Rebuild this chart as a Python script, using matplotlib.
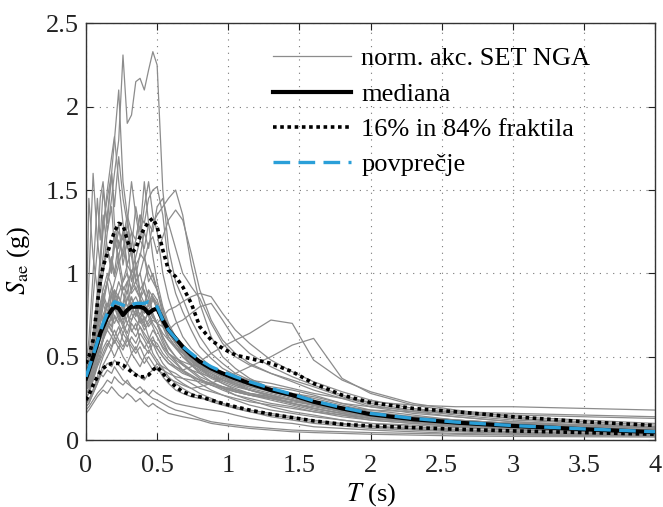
import matplotlib
matplotlib.use("Agg")
import matplotlib.pyplot as plt

# ---------------- data ----------------
T = [0.00, 0.02, 0.05, 0.08, 0.10, 0.12, 0.15, 0.18, 0.20, 0.23, 0.26, 0.29, 0.32,
     0.35, 0.38, 0.41, 0.44, 0.47, 0.50, 0.54, 0.58, 0.63, 0.68, 0.74, 0.80, 0.88,
     0.96, 1.05, 1.15, 1.30, 1.45, 1.60, 1.80, 2.00, 2.30, 2.60, 3.00, 3.50, 4.00]

rec01 = [0.42,0.45,0.6,0.8,0.9,1.0,1.25,1.45,1.6,1.8,2.31,1.9,1.95,2.15,2.17,2.1,2.22,2.33,2.25,
         1.5,1.15,0.95,0.85,0.72,0.62,0.52,0.46,0.40,0.36,
         0.31,0.27,0.23,0.19,0.16,0.13,0.11,0.09,0.07,0.055]
rec02 = [0.35,0.4,0.55,0.75,0.95,1.1,1.35,1.6,1.8,2.1,1.55,1.35,1.25,1.2,1.35,1.1,1.0,0.95,0.9,
         0.75,0.65,0.58,0.52,0.45,0.4,0.35,0.31,0.27,0.24,
         0.2,0.17,0.15,0.12,0.1,0.08,0.065,0.05,0.04,0.03]
rec03 = [0.4,0.45,0.65,0.85,1.05,1.25,1.5,1.7,1.82,1.55,1.3,1.15,1.25,1.05,1.1,1.25,1.15,1.3,1.35,
         1.4,1.45,1.5,1.35,1.05,0.82,0.62,0.5,0.43,0.37,
         0.31,0.26,0.22,0.18,0.15,0.12,0.1,0.085,0.07,0.055]
rec04 = [0.5,0.95,1.6,1.2,1.05,1.35,1.15,1.0,1.25,1.05,0.9,0.95,0.8,0.75,0.85,0.7,0.62,0.58,0.52,
         0.46,0.42,0.37,0.34,0.31,0.28,0.25,0.22,0.19,0.17,
         0.14,0.12,0.1,0.085,0.07,0.06,0.05,0.04,0.035,0.03]
rec05 = [0.38,0.5,0.85,1.15,1.45,1.55,1.25,1.4,1.15,1.3,1.05,1.2,0.95,1.05,0.9,0.95,0.85,0.75,0.7,
         0.6,0.52,0.47,0.42,0.38,0.34,0.3,0.27,0.24,0.21,
         0.18,0.16,0.14,0.12,0.1,0.09,0.075,0.06,0.05,0.04]
rec06 = [0.3,0.33,0.42,0.5,0.56,0.62,0.72,0.88,0.95,1.05,1.15,1.25,1.1,1.2,1.35,1.3,1.45,1.5,1.52,
         1.35,1.05,0.88,0.77,0.66,0.56,0.49,0.43,0.39,0.34,
         0.29,0.26,0.23,0.19,0.16,0.13,0.11,0.09,0.075,0.06]
rec07 = [0.26,0.28,0.36,0.46,0.52,0.6,0.72,0.68,0.82,0.78,0.92,0.88,1.02,0.98,1.12,1.08,1.18,1.22,1.12,
         1.22,1.32,1.38,1.32,1.12,0.9,0.72,0.6,0.52,0.46,
         0.4,0.35,0.3,0.25,0.2,0.16,0.14,0.11,0.09,0.07]
rec08 = [0.45,0.6,1.0,1.45,1.2,1.5,1.3,1.6,1.4,1.7,1.45,1.3,1.55,1.35,1.2,1.4,1.55,1.35,1.25,
         1.0,0.85,0.72,0.62,0.55,0.5,0.44,0.38,0.34,0.3,
         0.26,0.22,0.19,0.16,0.13,0.11,0.09,0.075,0.06,0.05]
rec09 = [0.3,0.32,0.42,0.52,0.62,0.72,0.82,0.76,0.9,0.86,0.8,0.9,0.76,0.72,0.68,0.62,0.58,0.62,0.55,
         0.5,0.46,0.44,0.42,0.44,0.47,0.52,0.56,0.6,0.64,
         0.72,0.7,0.48,0.36,0.29,0.22,0.18,0.14,0.12,0.1]
rec10 = [0.22,0.24,0.3,0.38,0.45,0.5,0.56,0.62,0.66,0.6,0.56,0.62,0.52,0.56,0.5,0.46,0.5,0.46,0.42,
         0.4,0.37,0.35,0.33,0.31,0.32,0.34,0.37,0.4,0.44,
         0.5,0.57,0.61,0.37,0.28,0.21,0.17,0.13,0.1,0.08]
rec11 = [0.2,0.22,0.28,0.34,0.4,0.45,0.5,0.55,0.6,0.55,0.64,0.6,0.7,0.66,0.74,0.7,0.78,0.74,0.7,
         0.74,0.78,0.8,0.83,0.86,0.88,0.86,0.76,0.66,0.58,
         0.48,0.41,0.35,0.29,0.24,0.19,0.16,0.13,0.11,0.09]
rec12 = [0.28,0.3,0.4,0.5,0.55,0.6,0.7,0.65,0.75,0.7,0.8,0.75,0.72,0.78,0.7,0.74,0.68,0.72,0.7,
         0.68,0.66,0.7,0.72,0.76,0.8,0.82,0.72,0.6,0.52,
         0.44,0.38,0.33,0.27,0.22,0.18,0.15,0.12,0.1,0.08]
rec13 = [0.36,0.42,0.55,0.7,0.78,0.85,0.95,1.05,0.98,1.1,0.95,1.0,0.88,0.92,0.85,0.9,0.8,0.85,0.78,
         0.68,0.6,0.55,0.5,0.45,0.42,0.38,0.35,0.32,0.3,
         0.27,0.24,0.21,0.17,0.14,0.12,0.1,0.08,0.065,0.05]
rec14 = [0.38,0.45,0.6,0.72,0.8,0.88,0.8,0.92,0.85,0.75,0.82,0.95,1.0,0.9,0.85,0.95,1.05,0.98,0.9,
         0.78,0.66,0.58,0.52,0.47,0.43,0.39,0.36,0.33,0.3,
         0.27,0.24,0.21,0.18,0.15,0.12,0.1,0.08,0.065,0.05]
rec15 = [0.35,0.4,0.52,0.62,0.7,0.75,0.82,0.78,0.85,0.8,0.72,0.78,0.85,0.8,0.75,0.82,0.9,0.86,0.82,
         0.7,0.62,0.56,0.5,0.46,0.43,0.4,0.37,0.34,0.31,
         0.28,0.25,0.22,0.18,0.15,0.13,0.11,0.09,0.07,0.055]
rec16 = [0.4,0.48,0.62,0.78,0.7,0.85,0.78,0.72,0.8,0.86,0.78,0.7,0.76,0.82,0.74,0.68,0.72,0.76,0.7,
         0.62,0.56,0.5,0.46,0.42,0.38,0.35,0.32,0.29,0.27,
         0.25,0.22,0.19,0.16,0.13,0.11,0.09,0.075,0.06,0.045]
rec17 = [0.33,0.38,0.48,0.58,0.64,0.7,0.76,0.72,0.8,0.74,0.68,0.74,0.82,0.86,0.8,0.76,0.82,0.88,0.84,
         0.74,0.66,0.6,0.54,0.49,0.45,0.41,0.38,0.35,0.33,
         0.31,0.28,0.25,0.21,0.17,0.14,0.12,0.1,0.08,0.06]
rec18 = [0.37,0.42,0.56,0.68,0.76,0.82,0.74,0.86,0.9,0.82,0.75,0.86,0.8,0.74,0.8,0.72,0.76,0.7,0.66,
         0.58,0.52,0.48,0.45,0.42,0.4,0.38,0.36,0.34,0.32,
         0.3,0.28,0.26,0.22,0.2,0.18,0.17,0.16,0.15,0.14]
rec19 = [0.3,0.35,0.45,0.55,0.6,0.66,0.72,0.68,0.74,0.7,0.64,0.7,0.66,0.62,0.68,0.64,0.6,0.66,0.62,
         0.56,0.52,0.49,0.47,0.45,0.44,0.42,0.4,0.38,0.36,
         0.34,0.31,0.28,0.25,0.23,0.21,0.2,0.2,0.19,0.18]
rec20 = [0.42,0.5,0.62,0.74,0.82,0.9,1.0,0.92,0.85,0.95,0.88,0.8,0.86,0.78,0.72,0.8,0.74,0.68,0.62,
         0.55,0.5,0.46,0.42,0.39,0.36,0.33,0.31,0.29,0.27,
         0.25,0.22,0.2,0.17,0.14,0.12,0.11,0.1,0.09,0.08]
rec21 = [0.34,0.38,0.48,0.56,0.6,0.64,0.7,0.66,0.62,0.68,0.6,0.56,0.62,0.58,0.64,0.6,0.55,0.6,0.58,
         0.52,0.48,0.44,0.41,0.38,0.36,0.34,0.32,0.3,0.28,
         0.26,0.24,0.21,0.18,0.15,0.13,0.11,0.09,0.07,0.055]
rec22 = [0.38,0.44,0.58,0.7,0.78,0.72,0.8,0.88,0.8,0.72,0.78,0.84,0.9,0.95,0.88,0.82,0.78,0.84,0.8,
         0.72,0.64,0.58,0.53,0.48,0.44,0.41,0.38,0.36,0.34,
         0.32,0.3,0.27,0.22,0.18,0.15,0.12,0.1,0.08,0.06]
rec23 = [0.36,0.4,0.5,0.6,0.65,0.72,0.66,0.74,0.7,0.76,0.7,0.64,0.72,0.78,0.72,0.66,0.7,0.74,0.7,
         0.64,0.6,0.56,0.52,0.48,0.45,0.42,0.38,0.35,0.32,
         0.29,0.26,0.23,0.19,0.16,0.13,0.11,0.09,0.07,0.06]
rec24 = [0.28,0.3,0.38,0.45,0.5,0.55,0.6,0.56,0.62,0.58,0.54,0.6,0.56,0.52,0.56,0.5,0.54,0.5,0.46,
         0.42,0.4,0.38,0.37,0.36,0.35,0.33,0.31,0.29,0.27,
         0.25,0.23,0.21,0.18,0.16,0.14,0.12,0.1,0.085,0.07]
rec25 = [0.32,0.36,0.45,0.52,0.56,0.6,0.66,0.62,0.58,0.64,0.68,0.62,0.58,0.54,0.6,0.56,0.52,0.58,0.55,
         0.5,0.46,0.43,0.4,0.38,0.36,0.34,0.32,0.3,0.28,
         0.26,0.24,0.22,0.2,0.18,0.17,0.16,0.15,0.14,0.13]
rec26 = [0.25,0.28,0.36,0.44,0.48,0.52,0.58,0.54,0.5,0.56,0.5,0.46,0.52,0.48,0.44,0.5,0.46,0.42,0.46,
         0.44,0.42,0.4,0.37,0.34,0.31,0.29,0.27,0.25,0.23,
         0.21,0.19,0.17,0.15,0.13,0.11,0.095,0.08,0.065,0.05]
rec27 = [0.2,0.22,0.28,0.34,0.38,0.42,0.46,0.44,0.48,0.45,0.42,0.46,0.42,0.4,0.38,0.36,0.4,0.42,0.44,
         0.38,0.34,0.3,0.28,0.26,0.25,0.24,0.22,0.2,0.18,
         0.16,0.14,0.12,0.1,0.085,0.07,0.06,0.05,0.04,0.035]
rec28 = [0.18,0.2,0.24,0.28,0.3,0.32,0.36,0.34,0.38,0.35,0.33,0.36,0.32,0.3,0.32,0.29,0.27,0.3,0.28,
         0.26,0.24,0.22,0.21,0.2,0.19,0.18,0.17,0.15,0.13,
         0.11,0.1,0.08,0.07,0.06,0.05,0.04,0.035,0.03,0.025]
rec29 = [0.16,0.18,0.22,0.26,0.28,0.3,0.28,0.32,0.3,0.27,0.25,0.28,0.26,0.23,0.25,0.22,0.2,0.22,0.2,
         0.18,0.16,0.15,0.14,0.13,0.12,0.1,0.09,0.08,0.07,
         0.06,0.05,0.045,0.04,0.035,0.03,0.025,0.022,0.02,0.018]
rec30 = [0.22,0.24,0.3,0.36,0.4,0.38,0.42,0.4,0.44,0.4,0.36,0.34,0.32,0.3,0.28,0.3,0.27,0.25,0.24,
         0.22,0.2,0.18,0.17,0.15,0.13,0.11,0.1,0.09,0.08,
         0.07,0.06,0.055,0.05,0.045,0.04,0.035,0.03,0.027,0.024]
rec31 = [0.3,0.34,0.45,0.6,0.7,0.8,0.95,1.1,1.0,1.2,1.1,1.3,1.15,1.4,1.25,1.55,1.3,1.1,0.95,
         0.8,0.7,0.62,0.55,0.48,0.43,0.38,0.34,0.3,0.27,
         0.24,0.21,0.18,0.15,0.12,0.1,0.085,0.07,0.055,0.045]
rec32 = [0.33,0.4,0.6,0.9,1.1,1.3,1.45,1.6,1.3,1.15,1.25,1.0,0.9,1.05,0.85,0.8,0.9,0.75,0.7,
         0.62,0.55,0.5,0.45,0.41,0.37,0.33,0.3,0.27,0.25,
         0.22,0.2,0.17,0.14,0.12,0.1,0.08,0.065,0.05,0.04]
rec33 = [0.28,0.3,0.38,0.48,0.55,0.6,0.68,0.75,0.8,0.88,0.95,1.05,1.0,1.1,1.2,1.15,1.3,1.25,1.4,
         1.45,1.3,1.15,1.0,0.92,0.85,0.7,0.58,0.5,0.45,
         0.4,0.36,0.32,0.26,0.21,0.17,0.14,0.11,0.09,0.075]
rec34 = [0.55,1.45,1.1,0.9,1.0,0.85,0.95,0.8,0.9,0.75,0.7,0.78,0.65,0.7,0.6,0.55,0.6,0.52,0.48,
         0.43,0.38,0.34,0.31,0.28,0.26,0.23,0.21,0.19,0.17,
         0.15,0.13,0.11,0.095,0.08,0.065,0.055,0.045,0.035,0.03]
rec35 = [0.4,0.45,0.62,0.8,0.92,1.0,1.15,1.05,1.2,1.1,1.25,1.05,1.15,0.95,1.0,1.1,0.95,1.0,0.9,
         0.78,0.68,0.6,0.54,0.48,0.44,0.4,0.36,0.33,0.3,
         0.27,0.24,0.21,0.17,0.14,0.12,0.1,0.08,0.065,0.05]
rec36 = [0.36,0.4,0.52,0.65,0.75,0.85,0.95,1.05,1.15,1.25,1.2,1.35,1.1,0.95,1.0,0.88,0.82,0.86,0.8,
         0.7,0.62,0.56,0.5,0.45,0.41,0.37,0.34,0.31,0.28,
         0.25,0.22,0.19,0.16,0.13,0.11,0.09,0.075,0.06,0.05]

records = [rec01, rec02, rec03, rec04, rec05, rec06, rec07, rec08, rec09, rec10,
           rec11, rec12, rec13, rec14, rec15, rec16, rec17, rec18, rec19, rec20,
           rec21, rec22, rec23, rec24, rec25, rec26, rec27, rec28, rec29, rec30,
           rec31, rec32, rec33, rec34, rec35, rec36]

median = [0.37,0.42,0.5,0.58,0.64,0.68,0.74,0.78,0.8,0.79,0.75,0.78,0.8,0.8,0.8,0.79,0.76,0.78,0.79,
          0.72,0.66,0.61,0.56,0.51,0.47,0.43,0.4,0.37,0.34,
          0.3,0.27,0.23,0.19,0.155,0.125,0.105,0.085,0.065,0.048]
mean = [0.38,0.43,0.51,0.59,0.65,0.7,0.76,0.8,0.83,0.82,0.81,0.8,0.81,0.82,0.82,0.82,0.83,0.82,0.8,
        0.72,0.66,0.61,0.56,0.52,0.48,0.44,0.41,0.38,0.35,
        0.31,0.275,0.235,0.195,0.16,0.13,0.108,0.087,0.067,0.05]
p84 = [0.46,0.5,0.6,0.82,0.95,1.04,1.12,1.2,1.25,1.3,1.29,1.2,1.12,1.15,1.22,1.27,1.31,1.33,1.28,
       1.14,1.02,0.98,0.92,0.82,0.68,0.6,0.55,0.51,0.49,
       0.46,0.41,0.34,0.27,0.225,0.19,0.17,0.14,0.11,0.088]
p16 = [0.24,0.27,0.33,0.38,0.41,0.43,0.45,0.46,0.46,0.46,0.45,0.43,0.41,0.39,0.38,0.38,0.39,0.42,0.44,
       0.4,0.36,0.32,0.29,0.27,0.26,0.24,0.22,0.2,0.18,
       0.155,0.135,0.115,0.095,0.085,0.075,0.065,0.055,0.045,0.035]

legend_labels = ["norm. akc. SET NGA", "mediana", "16% in 84% fraktila", "povprečje"]
xticks = [0, 0.5, 1, 1.5, 2, 2.5, 3, 3.5, 4]
yticks = [0, 0.5, 1, 1.5, 2, 2.5]

# ---------------- style ----------------
plt.rcParams['font.family'] = ['Liberation Serif', 'DejaVu Serif']
plt.rcParams['mathtext.fontset'] = 'stix'

fig = plt.figure(figsize=(6.63, 5.07), dpi=100)
ax = fig.add_axes([0.1297, 0.132, 0.8583, 0.822])

grey = '#8c8c8c'
for i, r in enumerate(records):
    ax.plot(T, r, color=grey, lw=0.9,
            label=legend_labels[0] if i == 0 else None, zorder=2)

ax.plot(T, median, color='black', lw=3.0, label=legend_labels[1], zorder=4)
ax.plot(T, p84, color='black', lw=2.6, ls=(0, (1, 1)), label=legend_labels[2], zorder=3)
ax.plot(T, p16, color='black', lw=2.6, ls=(0, (1, 1)), zorder=3)
ax.plot(T, mean, color='#2a9fd8', lw=2.4, ls=(0, (5, 2.5)), label=legend_labels[3], zorder=5)

ax.set_xlim(0, 4)
ax.set_ylim(0, 2.5)
ax.set_xticks(xticks)
ax.set_yticks(yticks)
ax.set_xticklabels(['0', '0.5', '1', '1.5', '2', '2.5', '3', '3.5', '4'])
ax.set_yticklabels(['0', '0.5', '1', '1.5', '2', '2.5'])
ax.tick_params(direction='in', length=5, width=0.8, top=True, right=True,
               labelsize=19, colors='#222222')
ax.tick_params(axis='y', pad=5)
ax.tick_params(axis='x', pad=11)
ax.grid(True, ls=(0, (1, 5)), color='#777777', lw=0.8)
for s in ax.spines.values():
    s.set_linewidth(1.0)
    s.set_color('#333333')

ax.set_xlabel(r'$\mathit{T}$ (s)', fontsize=19, labelpad=3)
ax.set_ylabel(r'$\mathit{S}_{\mathrm{ae}}$ (g)', fontsize=19)
ax.yaxis.set_label_coords(-0.095, 0.43)

leg = ax.legend(loc='upper left', bbox_to_anchor=(0.306, 0.975), frameon=False,
                borderpad=0, fontsize=19, handlelength=2.95, handletextpad=0.38,
                labelspacing=0.45)

fig.savefig('out.png', dpi=100)
